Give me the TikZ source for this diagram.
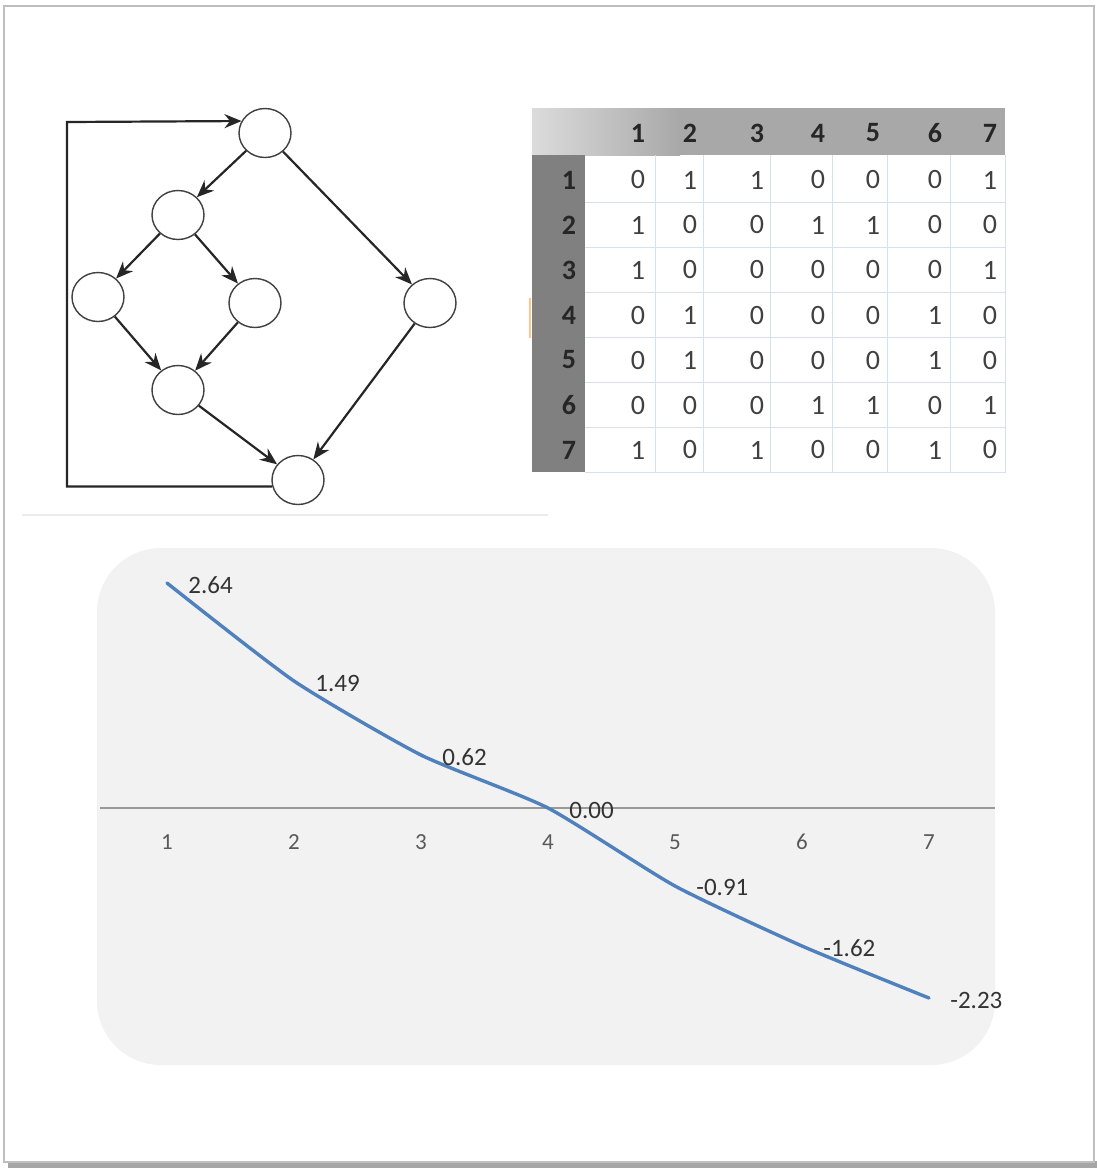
\documentclass[tikz,border=0pt]{standalone}
\usepackage{fontspec}
\setmainfont{Carlito}
\usetikzlibrary{shapes.geometric,arrows.meta}
\definecolor{gridblue}{RGB}{214,224,238}
\definecolor{lineblue}{RGB}{79,129,189}

\begin{document}
\begin{tikzpicture}[x=0.5pt, y=-0.5pt, >={Stealth[length=8.5pt,width=7pt]},
  vertex/.style={ellipse, draw=black!75, line width=0.7pt, fill=white,
    minimum width=26pt, minimum height=24.5pt, inner sep=0pt},
  edge/.style={->, line width=1.1pt, draw=black!85},
  hcell/.style={font=\fontsize{14}{14}\selectfont\bfseries, text=black!85},
  cell/.style={font=\fontsize{14}{14}\selectfont, text=black!75},
  axlabel/.style={font=\fontsize{11.5}{12}\selectfont, text=black!65},
  val/.style={font=\fontsize{12.5}{13}\selectfont, text=black!80, anchor=west, inner sep=0pt},
  chartline/.style={draw=lineblue, line width=1.7pt, line cap=round}]

  % Khung ngoai
  \useasboundingbox (0,0) rectangle (1097,1169);
  \fill[black!35] (8,1161) rectangle (1097,1168);
  \filldraw[fill=white, draw=black!25, line width=1pt] (4,6) rectangle (1094,1162);
  \draw[black!8, line width=1pt] (22,515) -- (548,515);

  % Do thi luong
  \node[vertex] (n1) at (265,133) {};
  \node[vertex] (n2) at (178,215) {};
  \node[vertex] (n3) at (98,297) {};
  \node[vertex] (n4) at (255,303) {};
  \node[vertex] (n5) at (430,303) {};
  \node[vertex] (n6) at (178,390) {};
  \node[vertex] (n7) at (298,480) {};

  \draw[edge] (n1) -- (n2);
  \draw[edge] (n1) -- (n5);
  \draw[edge] (n2) -- (n3);
  \draw[edge] (n2) -- (n4);
  \draw[edge] (n3) -- (n6);
  \draw[edge] (n4) -- (n6);
  \draw[edge] (n6) -- (n7);
  \draw[edge] (n5) -- (n7);

  % Canh quay lai
  \coordinate (back) at (67,122);
  \draw[edge] (n7.194) -| (back) -- (n1.153);

  % Ma tran ke
  \def\colx{{638,690,757,818,873,935,990}}
  \shade[left color=black!14, right color=black!34] (532,108) rectangle (680,155);
  \fill[black!34] (680,108) rectangle (1005,155);
  \fill[black!50] (532,155) rectangle (585,472);
  \draw[orange!45, line width=1pt] (530,298) -- (530,338);
  \foreach \gx in {655,703,770,832,887,950}
    \draw[gridblue, line width=0.5pt] (\gx,155) -- (\gx,472);
  \foreach \k in {1,...,6}
    \draw[gridblue, line width=0.5pt] (585,{157.5+45*\k}) -- (1005,{157.5+45*\k});
  \draw[gridblue, line width=0.5pt] (585,472) -- (1005,472) -- (1005,155);

  \foreach \c in {1,...,7} {
    \pgfmathsetmacro\xx{\colx[\c-1]}
    \node[hcell] (h\c) at (\xx,133) {\c};
  }
  \foreach \r in {1,...,7}
    \node[hcell] (r\r) at (569,{135+45*\r}) {\r};

  \foreach \row [count=\r] in {{0,1,1,0,0,0,1},{1,0,0,1,1,0,0},{1,0,0,0,0,0,1},
      {0,1,0,0,0,1,0},{0,1,0,0,0,1,0},{0,0,0,1,1,0,1},{1,0,1,0,0,1,0}}
    \foreach \v [count=\c] in \row {
      \pgfmathsetmacro\xx{\colx[\c-1]}
      \node[cell] (c\r\c) at (\xx,{135+45*\r}) {\v};
    }

  % Bieu do
  \fill[black!5, rounded corners=32pt] (97,548) rectangle (995,1065);
  \draw[black!40, line width=1pt] (100,808) -- (995,808);
  \foreach \k in {1,...,7}
    \node[axlabel] (x\k) at ({167+127*(\k-1)},842) {\k};

  \draw[chartline] plot[smooth, tension=0.35] coordinates
    {(167,583) (294,681) (421,755) (548,808) (675,886) (802,946) (929,998)};

  \foreach \v [count=\k] in {2.64,1.49,0.62,0.00,-0.91,-1.62,-2.23}
    \node[val] (v\k) at ({167+127*(\k-1)+21},{808-85.2*\v+2}) {\v};
\end{tikzpicture}
\end{document}
